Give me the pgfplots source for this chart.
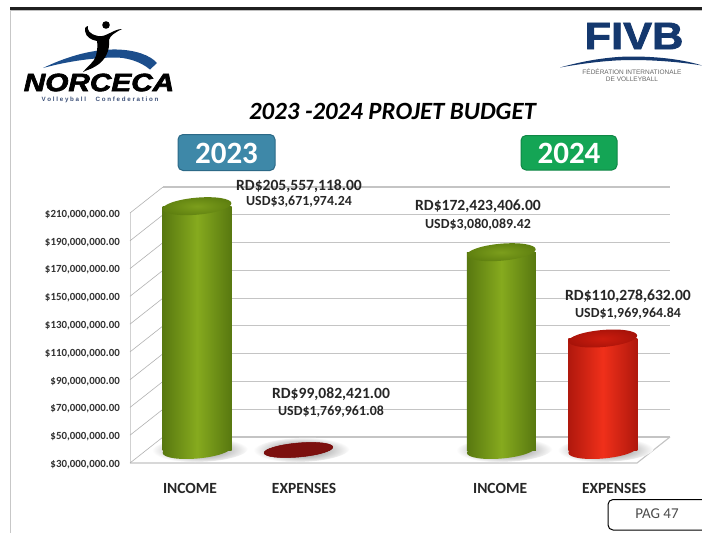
\documentclass[border=0pt]{standalone}
\usepackage{pgfplots}
\pgfplotsset{compat=1.18}
\usepackage{fontspec}
\setmainfont{Carlito}
\newfontfamily\logofont{Liberation Sans}
\newfontfamily\logoheavy[BoldFeatures={FakeBold=2},BoldItalicFeatures={FakeBold=2.5}]{Liberation Sans}
\usetikzlibrary{shapes.geometric}
\definecolor{gridc}{HTML}{C4C4C4}
\definecolor{tickc}{HTML}{333333}
\definecolor{gmid}{HTML}{86AA1E}
\definecolor{gedge}{HTML}{587810}
\definecolor{gtopi}{HTML}{7C9E1C}
\definecolor{gtopo}{HTML}{5F8010}
\definecolor{rmid}{HTML}{F0301A}
\definecolor{redge}{HTML}{B0180D}
\definecolor{rtopi}{HTML}{CC1C0E}
\definecolor{rtopo}{HTML}{A81309}
\definecolor{dred}{HTML}{7C100E}
\definecolor{navy}{HTML}{14386E}
\definecolor{swoosh}{HTML}{1C4E8C}
\tikzset{
  ell/.style={shape=ellipse,inner sep=0pt,minimum width=69pt,minimum height=17pt,rotate=5,anchor=center},
  gbody/.style={left color=gedge,right color=gedge,middle color=gmid},
  rbody/.style={left color=redge,right color=redge,middle color=rmid},
  gtop/.style={inner color=gtopi,outer color=gtopo},
  rtop/.style={inner color=rtopi,outer color=rtopo},
  shadow/.style={shape=ellipse,inner sep=0pt,minimum width=96pt,minimum height=24pt,rotate=2,anchor=center,inner color=black!55,outer color=white,xshift=3pt,yshift=0pt},
  lab/.style={font=\fontsize{15.6}{17}\selectfont\bfseries,text=black!85,inner sep=0pt},
  labs/.style={font=\fontsize{13.9}{16}\selectfont\bfseries,text=black!85,inner sep=0pt},
}
\pgfplotsset{
  base/.style={scale only axis,width=507pt,height=250pt,anchor=south west,clip=false,
    axis line style={draw=none},major tick length=0pt,
    xmin=-0.498,xmax=4.5,ymin=30000000,ymax=210000000,
    scaled y ticks=false},
  cap/.style={draw=none,mark=none,nodes near coords={},forget plot,
    every node near coord/.style={#1}},
}
\begin{document}
\begin{tikzpicture}
\path[use as bounding box,fill=white] (0pt,0pt) rectangle (702pt,-533pt);
% page frame
\begin{scope}[x=1pt,y=-1pt]
\fill[black!88] (10,7) rectangle (702,10);
\fill[black!25] (10,10) rectangle (702,11);
\draw[black!22,line width=0.8pt] (10.5,10) -- (10.5,533);
% floor and side wall
\draw[gridc,line width=1.1pt] (130,463) -- (637,463) -- (670,437);
\draw[black!18,line width=0.6pt] (130,213) -- (130,463);
\foreach \yy in {463,435.2,407.4,379.7,351.9,324.1,296.3,268.6,240.8,213}
  \draw[black!30,line width=0.6pt] (130,\yy) -- (163,\yy-26);
\end{scope}
% back wall gridlines
\begin{axis}[base,at={(163pt,-437pt)},
  ytick={30000000,50000000,70000000,90000000,110000000,130000000,150000000,170000000,190000000,210000000},
  xtick=\empty,yticklabels={},ymajorgrids,
  grid style={gridc,line width=1.2pt}]
\addplot[draw=none,forget plot] coordinates {(0,30000000)(4,210000000)};
\end{axis}
% front plane: value axis labels
\begin{axis}[base,at={(130pt,-463pt)},
  ytick={30000000,50000000,70000000,90000000,110000000,130000000,150000000,170000000,190000000,210000000},
  yticklabels={{\$30,000,000.00},{\$50,000,000.00},{\$70,000,000.00},{\$90,000,000.00},{\$110,000,000.00},{\$130,000,000.00},{\$150,000,000.00},{\$170,000,000.00},{\$190,000,000.00},{\$210,000,000.00}},
  yticklabel style={font=\fontsize{10.9}{12}\selectfont\bfseries,text=tickc,inner sep=0pt,yshift=-1.5pt},
  yticklabel shift=10pt,
  xtick=\empty]
\addplot[draw=none,forget plot] coordinates {(0,30000000)(4,210000000)};
\end{axis}
% mid-depth plane: shadows and bar bases
\begin{axis}[base,at={(146.5pt,-450pt)},xtick=\empty,ytick=\empty]
\addplot[cap={shadow}] table {
x y
0 30000000
1 30000000
3 30000000
4 30000000
};
\addplot[cap={ell,gbody}] table {
x y
0 30000000
3 30000000
};
\addplot[cap={ell,rbody}] table {
x y
4 30000000
};
\end{axis}
% mid-depth plane: the bars
\begin{axis}[base,at={(146.5pt,-450pt)},
  xtick={-0.069,1.055,2.988,4.112},
  xticklabels={INCOME,EXPENSES,INCOME,EXPENSES},
  xticklabel style={font=\fontsize{15.5}{17}\selectfont\bfseries,text=black!85,anchor=center,yshift=-38pt,inner sep=0pt},
  xticklabel shift=0pt,
  ytick=\empty]
\addplot[ybar,bar width=69pt,bar shift=0pt,draw=none,gbody] coordinates {(0,205557118)};
\addplot[ybar,bar width=69pt,bar shift=0pt,draw=none,gbody] coordinates {(3,172423406)};
\addplot[ybar,bar width=69pt,bar shift=0pt,draw=none,rbody] coordinates {(4,110278632)};
\addplot[cap={ell,gtop}] table {
x y
0 205557118
3 172423406
};
\addplot[cap={ell,rtop}] table {
x y
4 110278632
};
\addplot[cap={ell,fill=dred,draw=red!45!black,line width=0.5pt,minimum height=14pt}] table {
x y
1 30000000
};
\end{axis}
\begin{scope}[x=1pt,y=-1pt]
% data labels
\node[lab] at (299,186) {RD\$205,557,118.00};
\node[labs] at (299,202) {USD\$3,671,974.24};
\node[lab] at (478,206) {RD\$172,423,406.00};
\node[labs] at (478,225) {USD\$3,080,089.42};
\node[lab] at (331,394) {RD\$99,082,421.00};
\node[labs] at (331,412) {USD\$1,769,961.08};
\node[lab] at (628,296) {RD\$110,278,632.00};
\node[labs] at (628,314) {USD\$1,969,964.84};
% title
\node[font=\fontsize{24.8}{26}\selectfont\bfseries\itshape,inner sep=0pt] at (392.5,111) {2023 -2024 PROJET BUDGET};
% year buttons
\draw[rounded corners=5pt,line width=1pt,fill={rgb,255:red,62;green,136;blue,168},draw={rgb,255:red,44;green,105;blue,135}] (178,134.5) rectangle (275,170.5);
\node[font=\fontsize{31}{33}\selectfont\bfseries,text=white,inner sep=0pt] at (226.5,153) {2023};
\draw[rounded corners=5pt,line width=1pt,fill={rgb,255:red,20;green,165;blue,85},draw={rgb,255:red,15;green,135;blue,70}] (521,135.5) rectangle (617,170);
\node[font=\fontsize{31}{33}\selectfont\bfseries,text=white,inner sep=0pt] at (569,153) {2024};
% page box
\draw[black,line width=1pt,rounded corners=5pt,fill=white] (702,499.5) -- (608,499.5) -- (608,530) -- (702,530);
\node[font=\fontsize{15}{17}\selectfont,text=black!70,inner sep=0pt] at (657,514) {PAG 47};
% NORCECA logo
\fill[swoosh] (43,68) .. controls (70,55) and (95,49) .. (117,49.5) .. controls (135,50) and (150,55) .. (157,63) -- (150,69.5) .. controls (140,61) and (125,57) .. (113,57.5) .. controls (90,58) and (65,62) .. (43,68) -- cycle;
\fill[black] (106,25) circle (3.8);
\fill[black] (122,29) .. controls (114,33) and (110,36) .. (109,40) .. controls (110,50) and (106,60) .. (96,66) .. controls (90,70) and (86,70) .. (83,72) .. controls (88,66) and (94,62) .. (96,56) .. controls (97,50) and (98,46) .. (97,41) .. controls (91,40) and (86,37) .. (85,31) .. controls (84,29) and (85,27) .. (88,26) .. controls (87,30) and (89,34) .. (98,36) .. controls (102,37) and (106,35) .. (110,33) .. controls (114,31) and (118,29) .. (122,29) -- cycle;
\node[font=\logoheavy\fontsize{25}{26}\selectfont\bfseries\itshape,inner sep=0pt,xscale=1.19] at (99,82.5) {NORCECA};
\node[font=\logofont\fontsize{6.2}{7}\selectfont\bfseries,text={rgb,255:red,60;green,80;blue,120},inner sep=0pt] at (100,99.5) {V o l l e y b a l l\quad\ \ C o n f e d e r a t i o n};
% FIVB logo
\node[font=\logoheavy\fontsize{38}{40}\selectfont\bfseries,text=navy,inner sep=0pt,xscale=1.14] at (634,36) {FIVB};
\fill[navy] (560,67.5) .. controls (590,59) and (615,56.5) .. (632,56.5) .. controls (660,56.5) and (685,60) .. (702,65.5) .. controls (680,62) and (655,60) .. (632,60) .. controls (610,60) and (585,63) .. (560,67.5) -- cycle;
\node[font=\logofont\fontsize{6.5}{7}\selectfont,text=black!60,inner sep=0pt] at (632,72) {FÉDÉRATION INTERNATIONALE};
\node[font=\logofont\fontsize{6.5}{7}\selectfont,text=black!60,inner sep=0pt] at (632,79) {DE VOLLEYBALL};
\end{scope}
\end{tikzpicture}
\end{document}
